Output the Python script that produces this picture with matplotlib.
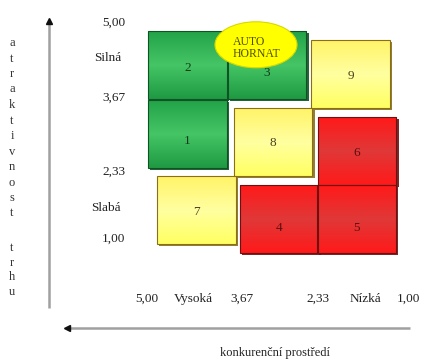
import numpy as np
import matplotlib
matplotlib.use("Agg")
import matplotlib.pyplot as plt
from matplotlib.patches import Rectangle, Ellipse
from matplotlib.colors import to_rgb

# ---- data -------------------------------------------------------------
box_labels = ['1', '2', '3', '4', '5', '6', '7', '8', '9']
# left edge on the (reversed) competition axis, top edge on attractiveness axis
box_x_left = [5.00, 5.00, 3.67, 3.47, 2.18, 2.17, 4.85, 3.57, 2.28]
box_y_top = [3.65, 5.00, 5.00, 1.98, 1.98, 3.31, 2.16, 3.49, 4.82]
box_zone = ['green', 'green', 'green', 'red', 'red', 'red', 'yellow', 'yellow', 'yellow']
box_w = 1.31
box_h = 1.33

y_tick_labels = ['5,00', '3,67', '2,33', '1,00']
y_row_labels = ['Silná', 'Slabá']
x_tick_labels = ['5,00', 'Vysoká', '3,67', '2,33', 'Nízká', '1,00']
x_axis_title = 'konkurenční prostředí'
y_axis_title = ['atraktivnost', 'trhu']
highlight_text = 'AUTO\nHORNAT'
highlight_center = (3.20, 4.73)

# ---- styles / layout --------------------------------------------------
label_drop_px = [7, 3, 8, 9, 9, 2, 2, 1, 2]   # number placement inside boxes
grad = {
    'green': ['#24a449', '#45c565', '#1f9a44'],
    'red': ['#ff1a1a', '#e03838', '#ff1a1a'],
    'yellow': ['#fff468', '#ffffa0', '#ffff62'],
}
edge = {'green': '#0f5224', 'red': '#6e1010', 'yellow': '#8a6f1a'}
txtc = {'green': '#143a1a', 'red': '#5a1010', 'yellow': '#4a4020'}

W, H = 423, 359
fig = plt.figure(figsize=(W / 100, H / 100), dpi=100)
ax = fig.add_axes([0, 0, 1, 1])
ax.set_axis_off()

PX_X, PX_Y = 60.0, 51.0
xlim = (5 + 148 / PX_X, 5 - (W - 148) / PX_X)
ylim = (5 - (H - 31) / PX_Y, 5 + 31 / PX_Y)


def fx(px):
    return px / W


def fy(py):
    return 1 - py / H


serif = 'Liberation Serif'


def gradient(colors, n=64):
    c = [np.array(to_rgb(k)) for k in colors]
    t = np.linspace(0, 1, n)
    out = np.zeros((n, 1, 3))
    for i, tt in enumerate(t):
        if tt < 0.5:
            out[i, 0] = c[0] + (c[1] - c[0]) * (tt / 0.5)
        else:
            out[i, 0] = c[1] + (c[2] - c[1]) * ((tt - 0.5) / 0.5)
    return out


sx, sy = 2.2 / PX_X, 2.2 / PX_Y
for lab, xl, yt, z, dp in zip(box_labels, box_x_left, box_y_top, box_zone, label_drop_px):
    x0, x1 = xl - box_w, xl
    y0, y1 = yt - box_h, yt
    ax.add_patch(Rectangle((x0 - sx, y0 - sy), box_w, box_h,
                           facecolor=edge[z], edgecolor='none', zorder=2, alpha=0.9))
    ax.imshow(gradient(grad[z]), extent=(x1, x0, y0, y1), aspect='auto',
              origin='upper', interpolation='bilinear', zorder=3)
    ax.add_patch(Rectangle((x0, y0), box_w, box_h, facecolor='none',
                           edgecolor=edge[z], lw=0.8, zorder=4))
    ax.text((x0 + x1) / 2, (y0 + y1) / 2 - dp / PX_Y, lab, ha='center', va='center',
            fontsize=9.5, family=serif, color=txtc[z], zorder=5)

ax.add_patch(Ellipse(highlight_center, 82 / PX_X, 46 / PX_Y, facecolor='#ffff00',
                     edgecolor='#d8d800', lw=0.8, zorder=6))
ax.text(highlight_center[0] + 23 / PX_X, highlight_center[1] - 3.5 / PX_Y, highlight_text,
        ha='left', va='center', fontsize=8.5, family=serif, color='#505000',
        linespacing=0.95, zorder=7)

ax.set_xlim(*xlim)
ax.set_ylim(*ylim)

ax.plot([fx(49), fx(49)], [fy(308), fy(22)], transform=ax.transAxes,
        color='#a0a0a0', lw=1.8, solid_capstyle='butt', zorder=1)
ax.plot([fx(49)], [fy(21)], transform=ax.transAxes, marker='^', ms=4.5,
        color='#101010', zorder=1)
ax.plot([fx(69), fx(410)], [fy(328), fy(328)], transform=ax.transAxes,
        color='#a0a0a0', lw=1.8, solid_capstyle='butt', zorder=1)
ax.plot([fx(67)], [fy(328)], transform=ax.transAxes, marker='<', ms=4.5,
        color='#101010', zorder=1)

for lab, py in zip(y_tick_labels, [23, 98, 172, 239]):
    ax.text(fx(125), fy(py), lab, transform=ax.transAxes, ha='right', va='center',
            fontsize=9.5, family=serif, color='#222222')
for lab, py in zip(y_row_labels, [58, 208]):
    ax.text(fx(121), fy(py), lab, transform=ax.transAxes, ha='right', va='center',
            fontsize=9.5, family=serif, color='#222222')

for lab, px in zip(x_tick_labels, [147, 193, 242, 318, 365, 408]):
    ax.text(fx(px), fy(299), lab, transform=ax.transAxes, ha='center', va='center',
            fontsize=9.5, family=serif, color='#222222')

ax.text(fx(275), fy(353), x_axis_title, transform=ax.transAxes, ha='center',
        va='center', fontsize=9, family=serif, color='#222222')

word_starts = [43.0, 248.0]
word_steps = [15.5, 14.7]
for word, start, step in zip(y_axis_title, word_starts, word_steps):
    for i, ch in enumerate(word):
        ax.text(fx(12), fy(start + i * step), ch, transform=ax.transAxes,
                ha='center', va='center', fontsize=9, family=serif, color='#333333')

fig.savefig('out.png', dpi=100)
